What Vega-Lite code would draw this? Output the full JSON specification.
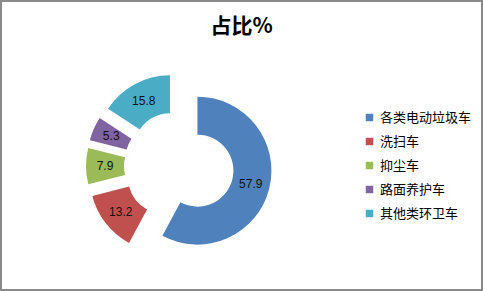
{
  "$schema": "https://vega.github.io/schema/vega-lite/v6.json",
  "width": 483,
  "height": 291,
  "autosize": {"type": "fit", "contains": "padding"},
  "padding": 0,
  "background": "white",
  "config": {"view": {"stroke": null}},
  "title": {
    "text": "占比%",
    "font": "Noto Sans CJK SC",
    "fontSize": 21,
    "fontWeight": "bold",
    "color": "#000000",
    "anchor": "middle",
    "offset": -37
  },
  "data": {
    "values": [
      {"i": 1, "category": "各类电动垃圾车", "value": 57.9},
      {"i": 2, "category": "洗扫车", "value": 13.2},
      {"i": 3, "category": "抑尘车", "value": 7.9},
      {"i": 4, "category": "路面养护车", "value": 5.3},
      {"i": 5, "category": "其他类环卫车", "value": 15.8}
    ]
  },
  "transform": [
    {"joinaggregate": [{"op": "sum", "field": "value", "as": "total"}]}
  ],
  "layer": [
    {
      "data": {"values": [{"frame": 1}]},
      "mark": {"type": "rect", "fill": null, "stroke": "#8a8a8a", "strokeWidth": 2},
      "encoding": {}
    },
    {
      "mark": {
        "type": "arc",
        "innerRadius": 36,
        "outerRadius": 74,
        "xOffset": {"expr": "-62.5 + 19*sin(PI*(datum.value_start+datum.value_end)/datum.total)"},
        "yOffset": {"expr": "20.5 - 19*cos(PI*(datum.value_start+datum.value_end)/datum.total)"}
      },
      "encoding": {
        "theta": {"field": "value", "type": "quantitative", "stack": true},
        "order": {"field": "i", "type": "quantitative"},
        "color": {
          "field": "category",
          "type": "nominal",
          "scale": {
            "domain": ["各类电动垃圾车", "洗扫车", "抑尘车", "路面养护车", "其他类环卫车"],
            "range": ["#4F81BD", "#C0504D", "#9BBB59", "#8064A2", "#4BACC6"]
          },
          "legend": {
            "title": null,
            "orient": "none",
            "legendX": 362,
            "legendY": 110,
            "symbolType": "square",
            "symbolSize": 56,
            "symbolStrokeWidth": 0,
            "labelFont": "Noto Sans CJK SC",
            "labelFontSize": 13,
            "labelColor": "#000000",
            "labelOffset": 4,
            "rowPadding": 10
          }
        }
      }
    },
    {
      "mark": {
        "type": "text",
        "radius": 55,
        "font": "Liberation Sans",
        "fontSize": 12,
        "color": "#111111",
        "xOffset": {"expr": "-62.5 + 19*sin(PI*(datum.value_start+datum.value_end)/datum.total)"},
        "yOffset": {"expr": "20.5 - 19*cos(PI*(datum.value_start+datum.value_end)/datum.total)"}
      },
      "encoding": {
        "theta": {"field": "value", "type": "quantitative", "stack": true},
        "order": {"field": "i", "type": "quantitative"},
        "text": {"field": "value", "type": "quantitative", "format": ".1f"}
      }
    }
  ]
}
